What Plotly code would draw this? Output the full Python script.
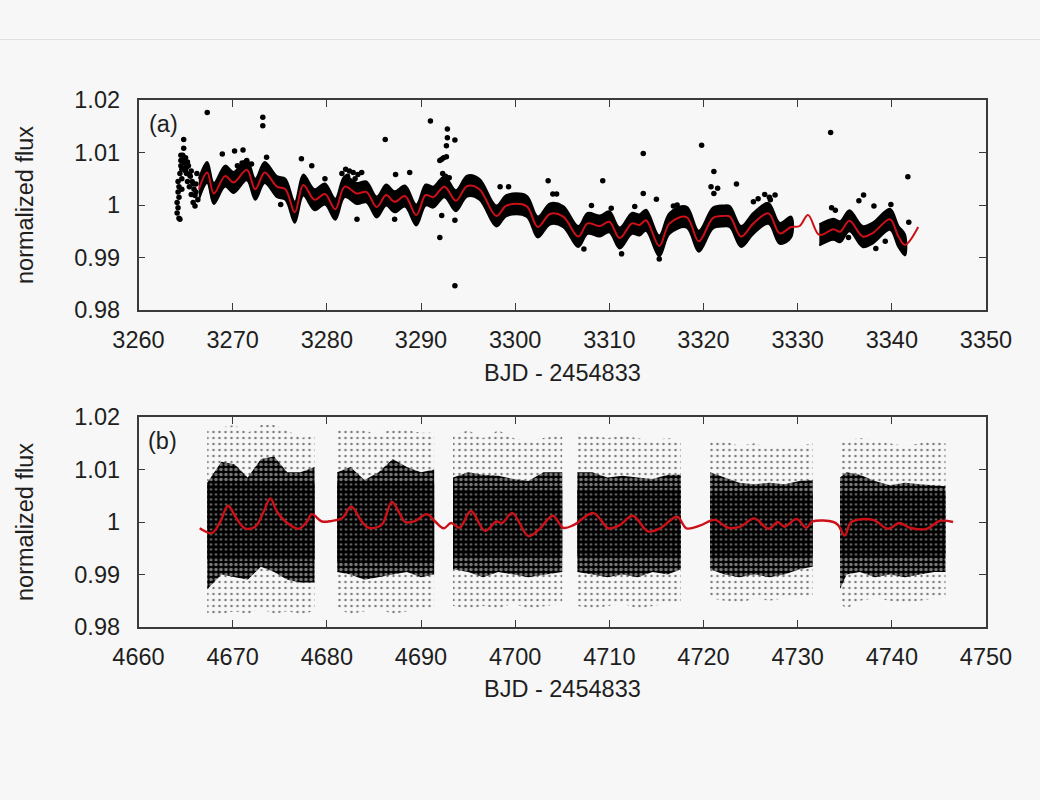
import plotly.graph_objects as go

# ---------------- shared axis labels ----------------
y_tickvals = [0.98, 0.99, 1.00, 1.01, 1.02]
y_ticktext = ["0.98", "0.99", "1", "1.01", "1.02"]
a_xticks = [3260, 3270, 3280, 3290, 3300, 3310, 3320, 3330, 3340, 3350]
b_xticks = [4660, 4670, 4680, 4690, 4700, 4710, 4720, 4730, 4740, 4750]
x_title = "BJD - 2454833"
y_title = "normalized flux"

# ---------------- panel (a) ----------------
a_model_x = [3266.4, 3267.3, 3268.0, 3269.2, 3270.1, 3271.5, 3272.4, 3273.4, 3274.7, 3275.6,
             3276.6, 3277.5, 3278.7, 3279.8, 3280.9, 3281.9, 3283.2, 3284.2, 3285.3, 3286.3,
             3287.2, 3288.3, 3289.5, 3290.5, 3291.3, 3292.5, 3293.7, 3294.9, 3296.2, 3298.0,
             3299.1, 3301.2, 3302.4, 3303.7, 3305.1, 3306.7, 3307.7, 3309.0, 3310.0, 3311.1,
             3312.4, 3313.2, 3313.9, 3315.3, 3316.4, 3318.2, 3319.5, 3321.0, 3322.1, 3322.8,
             3324.0, 3325.3, 3326.9, 3328.1, 3329.3, 3330.2, 3331.1, 3332.3, 3333.8, 3334.5,
             3335.5, 3336.9, 3338.0, 3339.8, 3340.7, 3341.4, 3342.8]
a_model_y = [1.0030, 1.0062, 1.0022, 1.0055, 1.0043, 1.0067, 1.0030, 1.0062, 1.0035, 1.0030,
             0.9986, 1.0038, 1.0010, 1.0021, 0.9992, 1.0035, 1.0022, 1.0025, 0.9996, 1.0019,
             1.0006, 1.0017, 0.9981, 1.0019, 1.0015, 1.0035, 1.0008, 1.0036, 1.0030, 0.9979,
             0.9999, 0.9998, 0.9958, 0.9983, 0.9978, 0.9940, 0.9965, 0.9960, 0.9968, 0.9937,
             0.9965, 0.9962, 0.9971, 0.9922, 0.9965, 0.9977, 0.9931, 0.9975, 0.9979, 0.9978,
             0.9940, 0.9965, 0.9984, 0.9946, 0.9958, 0.9960, 0.9981, 0.9943, 0.9954, 0.9949,
             0.9970, 0.9940, 0.9947, 0.9973, 0.9940, 0.9924, 0.9958]
# time ranges covered by observations and the half-width of their scatter about the curve
a_data_ranges = [[3266.0, 3329.3], [3332.3, 3341.4]]
a_scatter = 0.0020
# individual points: early streak, clumps and outliers
a_dot_x = [3264.1, 3264.1, 3264.2, 3264.2, 3264.3, 3264.3, 3264.4, 3264.4, 3264.5, 3264.5,
           3264.6, 3264.7, 3264.8, 3264.8, 3264.9, 3265.0, 3265.1, 3265.2, 3265.3, 3265.4,
           3265.5, 3265.6, 3265.7, 3265.8, 3265.9, 3266.0, 3266.1, 3266.2, 3264.6, 3265.0,
           3267.3, 3273.2, 3273.2, 3268.9, 3270.2, 3271.1, 3273.6, 3277.3, 3278.4, 3279.8,
           3286.2, 3287.3, 3288.8, 3291.0, 3292.8, 3292.8, 3293.6, 3292.7, 3292.7, 3292.4,
           3292.2, 3292.0, 3292.0, 3293.6, 3293.6, 3292.2, 3283.2, 3287.2, 3275.1, 3298.4,
           3299.3, 3303.5, 3304.0, 3304.4, 3309.3, 3308.1, 3313.6, 3313.6, 3315.0, 3311.3,
           3315.3, 3307.3, 3312.7, 3319.8, 3321.1, 3321.1, 3317.2, 3316.8, 3310.2, 3333.5,
           3341.7, 3323.5, 3337.0, 3336.5, 3338.1, 3339.9, 3325.3, 3327.1, 3327.6, 3338.3,
           3339.3, 3335.4, 3341.8, 3281.6, 3282.0, 3282.4, 3282.8, 3283.3, 3283.7, 3282.2,
           3283.0, 3292.3, 3292.6, 3293.0, 3270.5, 3271.0, 3271.5, 3272.0, 3320.8, 3321.5,
           3325.8, 3326.5, 3327.0, 3333.6, 3334.0, 3333.2, 3333.4,
           3264.2, 3264.3, 3264.5, 3264.6, 3264.7, 3264.9, 3265.1, 3265.2, 3265.4, 3265.6,
           3265.8, 3266.0, 3266.1, 3266.3]
a_dot_y = [0.9985, 1.0005, 1.0025, 1.0045, 0.9975, 1.0015, 1.0060, 0.9973, 1.0075, 1.0095,
           1.0050, 1.0085, 1.0108, 1.0125, 1.0070, 1.0090, 1.0060, 1.0045, 1.0075, 1.0035,
           1.0055, 1.0020, 1.0045, 1.0005, 1.0030, 0.9998, 1.0025, 1.0060, 1.0030, 1.0065,
           1.0176, 1.0167, 1.0151, 1.0097, 1.0103, 1.0105, 1.0091, 1.0088, 1.0075, 1.0050,
           1.0125, 1.0058, 1.0062, 1.0160, 1.0145, 1.0128, 1.0124, 1.0113, 1.0092, 1.0090,
           1.0087, 1.0085, 0.9938, 0.9846, 0.9971, 0.9980, 0.9973, 0.9973, 1.0001, 1.0035,
           1.0035, 1.0046, 1.0021, 1.0021, 1.0046, 0.9999, 1.0098, 1.0022, 1.0011, 0.9907,
           0.9897, 0.9916, 0.9997, 1.0114, 1.0064, 1.0022, 1.0000, 0.9998, 0.9994, 1.0138,
           1.0054, 1.0040, 1.0019, 1.0008, 0.9998, 1.0001, 1.0006, 1.0010, 1.0019, 0.9917,
           0.9931, 0.9938, 0.9967, 1.0060, 1.0068, 1.0065, 1.0062, 1.0058, 1.0062, 1.0055,
           1.0050, 1.0060, 1.0055, 1.0052, 1.0075, 1.0080, 1.0085, 1.0078, 1.0035, 1.0032,
           1.0012, 1.0020, 1.0015, 0.9995, 0.9990, 0.9950, 0.9960,
           0.9995, 1.0035, 1.0085, 1.0068, 1.0095, 1.0080, 1.0072, 1.0082, 1.0058, 1.0065,
           1.0040, 1.0018, 1.0040, 1.0010]

# ---------------- panel (b) ----------------
b_model_x = [4666.5, 4667.8, 4668.7, 4669.5, 4670.4, 4671.3, 4672.4, 4673.3, 4674.0, 4674.7,
             4675.6, 4677.0, 4677.9, 4678.4, 4679.5, 4680.5, 4681.6, 4682.6, 4683.7, 4684.4,
             4685.8, 4686.9, 4687.8, 4688.3, 4689.4, 4690.6, 4691.5, 4692.4, 4693.2,
             4694.1, 4695.3, 4696.8, 4698.0, 4698.6, 4699.7, 4701.4, 4702.6, 4704.0, 4705.1,
             4706.2, 4708.3, 4709.9, 4711.1, 4712.5, 4714.1, 4715.4, 4717.2, 4718.2, 4719.6,
             4721.2, 4722.6, 4723.9, 4725.4, 4726.9, 4727.9, 4728.6, 4729.9, 4730.9, 4731.6,
             4733.8, 4734.3, 4735.0, 4735.7, 4738.0, 4739.6, 4740.8, 4741.9, 4743.7, 4745.1,
             4746.5]
b_model_y = [0.9988, 0.9979, 1.0001, 1.0031, 1.0007, 0.9988, 0.9991, 1.0020, 1.0045, 1.0020,
             1.0001, 0.9987, 1.0001, 1.0015, 1.0001, 1.0002, 1.0007, 1.0029, 1.0001, 0.9989,
             0.9994, 1.0038, 1.0014, 1.0000, 1.0002, 1.0015, 1.0001, 0.9988, 0.9998,
             0.9989, 1.0021, 0.9983, 1.0001, 0.9998, 1.0017, 0.9973, 0.9987, 1.0012, 0.9989,
             0.9994, 1.0017, 0.9988, 0.9994, 1.0012, 0.9982, 0.9988, 1.0010, 0.9988, 0.9993,
             1.0004, 0.9989, 0.9991, 1.0007, 0.9987, 1.0000, 0.9991, 1.0006, 0.9989, 1.0001,
             1.0000, 0.9994, 0.9974, 1.0000, 1.0004, 0.9987, 0.9998, 0.9989, 0.9987, 1.0002,
             1.0000]
# observation segments: x positions with the dense-body and sparse-halo bounds
b_seg_x = [
    [4667.3, 4668.8, 4670.2, 4671.6, 4673.0, 4674.4, 4675.8, 4677.2, 4678.7],
    [4681.1, 4682.5, 4684.0, 4685.5, 4687.0, 4688.5, 4690.0, 4691.4],
    [4693.4, 4695.0, 4696.6, 4698.2, 4699.8, 4701.4, 4703.0, 4705.0],
    [4706.6, 4708.2, 4709.8, 4711.4, 4713.0, 4714.6, 4716.2, 4717.6],
    [4720.7, 4722.2, 4723.8, 4725.4, 4727.0, 4728.6, 4730.2, 4731.6],
    [4734.5, 4735.2, 4736.6, 4738.2, 4739.8, 4741.4, 4743.0, 4744.5, 4745.7],
]
b_body_hi = [
    [1.0075, 1.0115, 1.0110, 1.0085, 1.0120, 1.0125, 1.0095, 1.0095, 1.0105],
    [1.0095, 1.0105, 1.0080, 1.0095, 1.0120, 1.0105, 1.0095, 1.0100],
    [1.0085, 1.0095, 1.0090, 1.0088, 1.0082, 1.0078, 1.0095, 1.0095],
    [1.0095, 1.0095, 1.0085, 1.0088, 1.0085, 1.0082, 1.0090, 1.0090],
    [1.0095, 1.0085, 1.0075, 1.0072, 1.0075, 1.0072, 1.0078, 1.0080],
    [1.0085, 1.0095, 1.0090, 1.0078, 1.0070, 1.0075, 1.0072, 1.0070, 1.0068],
]
b_body_lo = [
    [0.9872, 0.9900, 0.9895, 0.9890, 0.9915, 0.9905, 0.9890, 0.9885, 0.9885],
    [0.9905, 0.9900, 0.9890, 0.9895, 0.9900, 0.9905, 0.9895, 0.9900],
    [0.9910, 0.9905, 0.9895, 0.9905, 0.9900, 0.9895, 0.9900, 0.9905],
    [0.9905, 0.9900, 0.9895, 0.9900, 0.9895, 0.9905, 0.9900, 0.9910],
    [0.9910, 0.9900, 0.9895, 0.9900, 0.9895, 0.9900, 0.9910, 0.9915],
    [0.9872, 0.9900, 0.9905, 0.9895, 0.9900, 0.9895, 0.9900, 0.9905, 0.9905],
]
b_halo_hi = [
    [1.0175, 1.0180, 1.0185, 1.0170, 1.0185, 1.0185, 1.0175, 1.0160, 1.0165],
    [1.0175, 1.0180, 1.0175, 1.0165, 1.0180, 1.0175, 1.0170, 1.0170],
    [1.0165, 1.0175, 1.0160, 1.0175, 1.0160, 1.0155, 1.0160, 1.0165],
    [1.0170, 1.0165, 1.0160, 1.0165, 1.0160, 1.0155, 1.0160, 1.0155],
    [1.0155, 1.0155, 1.0145, 1.0150, 1.0140, 1.0145, 1.0145, 1.0150],
    [1.0150, 1.0155, 1.0160, 1.0155, 1.0150, 1.0145, 1.0150, 1.0155, 1.0150],
]
b_halo_lo = [
    [0.9825, 0.9825, 0.9830, 0.9825, 0.9835, 0.9825, 0.9830, 0.9825, 0.9830],
    [0.9835, 0.9825, 0.9830, 0.9835, 0.9825, 0.9830, 0.9835, 0.9835],
    [0.9840, 0.9835, 0.9840, 0.9835, 0.9845, 0.9835, 0.9840, 0.9845],
    [0.9840, 0.9835, 0.9840, 0.9845, 0.9835, 0.9840, 0.9845, 0.9845],
    [0.9855, 0.9850, 0.9845, 0.9855, 0.9850, 0.9855, 0.9860, 0.9860],
    [0.9845, 0.9835, 0.9850, 0.9855, 0.9850, 0.9845, 0.9850, 0.9855, 0.9860],
]
# darkest central part of each segment's cloud
b_core_hi = [1.0075, 1.0075, 1.0062, 1.0062, 1.0055, 1.0055]
b_core_lo = [0.9928, 0.9925, 0.9935, 0.9935, 0.9935, 0.9935]

# ---------------- styles ----------------
BG = "#f7f7f7"
INK = "#1e1e1e"
AXIS = "#3a3a3a"
RED = "#cc1018"
FONT = "Liberation Sans, Arial, sans-serif"

fig = go.Figure()

# panel (a): dense band of observations following the light curve
for lo, hi in a_data_ranges:
    sx = [x for x in a_model_x if lo <= x <= hi]
    sy = [y for x, y in zip(a_model_x, a_model_y) if lo <= x <= hi]
    up = [y + a_scatter for y in sy]
    dn = [y - a_scatter for y in sy]
    fig.add_trace(go.Scatter(x=sx + sx[::-1], y=up + dn[::-1], mode="lines", fill="toself",
                             xaxis="x", yaxis="y", fillcolor="black",
                             line=dict(color="black", width=2, shape="spline"),
                             hoverinfo="skip", showlegend=False))
fig.add_trace(go.Scatter(x=a_dot_x, y=a_dot_y, mode="markers", xaxis="x", yaxis="y",
                         marker=dict(color="black", size=5.5), hoverinfo="skip",
                         showlegend=False))
fig.add_trace(go.Scatter(x=a_model_x, y=a_model_y, mode="lines", xaxis="x", yaxis="y",
                         line=dict(color=RED, width=2, shape="spline"), showlegend=False))

# panel (b): point clouds per observing segment (sparse halo, speckled body, dense core)
for sx, bh, bl, hh, hl, ch, cl in zip(b_seg_x, b_body_hi, b_body_lo, b_halo_hi, b_halo_lo,
                                      b_core_hi, b_core_lo):
    fig.add_trace(go.Scatter(x=sx + sx[::-1], y=hh + hl[::-1], mode="lines", fill="toself",
                             xaxis="x2", yaxis="y2", line=dict(width=0),
                             fillcolor="rgba(0,0,0,0)",
                             fillpattern=dict(shape=".", fgcolor="black", bgcolor="rgba(0,0,0,0)",
                                              size=6, solidity=0.14),
                             hoverinfo="skip", showlegend=False))
    fig.add_trace(go.Scatter(x=sx + sx[::-1], y=bh + bl[::-1], mode="lines", fill="toself",
                             xaxis="x2", yaxis="y2", line=dict(width=0, color="black"),
                             fillcolor="black",
                             fillpattern=dict(shape=".", fgcolor=BG, bgcolor="black",
                                              size=5, solidity=0.38),
                             hoverinfo="skip", showlegend=False))
    cx = [sx[0], sx[-1], sx[-1], sx[0]]
    cy = [ch, ch, cl, cl]
    fig.add_trace(go.Scatter(x=cx, y=cy, mode="lines", fill="toself",
                             xaxis="x2", yaxis="y2", line=dict(width=0, color="black"),
                             fillcolor="black",
                             fillpattern=dict(shape=".", fgcolor=BG, bgcolor="black",
                                              size=5, solidity=0.16),
                             hoverinfo="skip", showlegend=False))
fig.add_trace(go.Scatter(x=b_model_x, y=b_model_y, mode="lines", xaxis="x2", yaxis="y2",
                         line=dict(color=RED, width=2.4, shape="spline"), showlegend=False))

axis_common = dict(showline=True, linecolor=AXIS, linewidth=1.5, mirror="ticks",
                   ticks="inside", ticklen=7, tickwidth=1.2, tickcolor=AXIS,
                   showgrid=False, zeroline=False, automargin=False,
                   tickfont=dict(family=FONT, size=23.5, color=INK))

fig.update_layout(
    width=1040, height=800,
    paper_bgcolor=BG, plot_bgcolor=BG,
    margin=dict(l=0, r=0, t=0, b=0, autoexpand=False),
    showlegend=False,
    xaxis=dict(domain=[138.5 / 1040, 986 / 1040], range=[3260, 3350],
               tickvals=a_xticks, anchor="y", ticklabelstandoff=8, **axis_common),
    yaxis=dict(domain=[1 - 310 / 800, 1 - 100 / 800], range=[0.98, 1.02],
               tickvals=y_tickvals, ticktext=y_ticktext, anchor="x",
               ticklabelstandoff=12, **axis_common),
    xaxis2=dict(domain=[138.5 / 1040, 986 / 1040], range=[4660, 4750],
                tickvals=b_xticks, anchor="y2", ticklabelstandoff=8, **axis_common),
    yaxis2=dict(domain=[1 - 627 / 800, 1 - 417 / 800], range=[0.98, 1.02],
                tickvals=y_tickvals, ticktext=y_ticktext, anchor="x2",
                ticklabelstandoff=12, **axis_common),
    shapes=[dict(type="line", xref="paper", yref="paper", x0=0, x1=1,
                 y0=1 - 39.5 / 800, y1=1 - 39.5 / 800,
                 line=dict(color="#e0e0e0", width=1))],
)

ann_font = dict(family=FONT, size=23.5, color=INK)
annotations = [
    dict(text="(a)", x=163 / 1040, y=1 - 124 / 800),
    dict(text="(b)", x=162 / 1040, y=1 - 441 / 800),
    dict(text=x_title, x=562 / 1040, y=1 - 373 / 800),
    dict(text=x_title, x=562 / 1040, y=1 - 689 / 800),
    dict(text=y_title, x=25 / 1040, y=1 - 205 / 800, textangle=-90),
    dict(text=y_title, x=25 / 1040, y=1 - 522 / 800, textangle=-90),
]
for a in annotations:
    fig.add_annotation(xref="paper", yref="paper", showarrow=False,
                       xanchor="center", yanchor="middle", font=ann_font, **a)

page_style = ("document.body.style.margin='0';"
              "document.body.style.background='" + BG + "';"
              "document.documentElement.style.background='" + BG + "';")
fig.write_html("out.html", post_script=page_style, config={"displayModeBar": False})
